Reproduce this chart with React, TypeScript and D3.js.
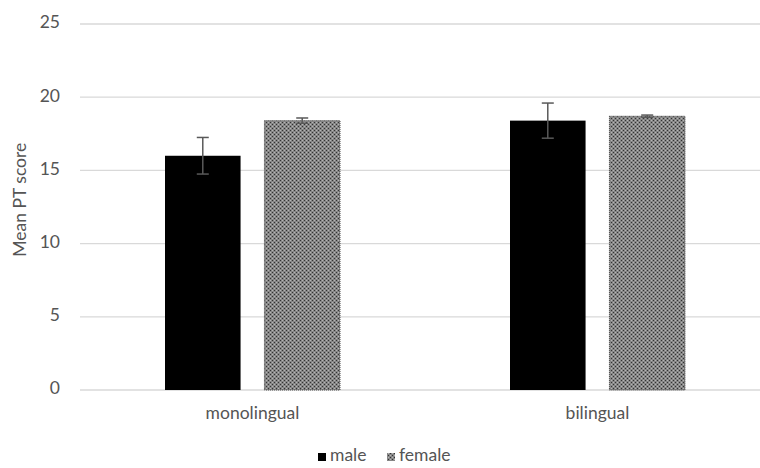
import React, { useEffect } from "react";
import * as d3 from "d3";

const groups = ["monolingual", "bilingual"];
const seriesNames = ["male", "female"];
const maleMeans = [16.0, 18.4];
const maleErr = [1.25, 1.2];
const femaleMeans = [18.4, 18.7];
const femaleErr = [0.18, 0.08];
const yTicks = [0, 5, 10, 15, 20, 25];

const W = 760;
const H = 468;
const FONT = "Lato, 'Open Sans', sans-serif";
const TEXT = "#555";
const FS = 17.5;

export default function App() {
  useEffect(() => {
    document.body.style.margin = "0";
  }, []);

  // the category bands run past the right edge, as in the cropped original
  const x = d3.scaleBand<string>().domain(groups).range([80, 770]);
  const inner = d3.scaleBand<string>().domain(seriesNames).range([85, 260]).paddingInner(0.24);
  const y = d3.scaleLinear().domain([0, 25]).range([390, 24]);

  const series = [
    { name: "male", means: maleMeans, errs: maleErr, fill: "#000" },
    { name: "female", means: femaleMeans, errs: femaleErr, fill: "url(#dots)" },
  ];
  const groupMid = (inner.range()[0] + inner.range()[1]) / 2;

  return (
    <svg width={W} height={H} style={{ display: "block", background: "#fff" }} fontFamily={FONT}>
      <defs>
        <pattern id="dots" width="4" height="4" patternUnits="userSpaceOnUse">
          <rect width="4" height="4" fill="#868686" />
          <rect x="0" y="0" width="1" height="1" fill="#333" />
          <rect x="2" y="2" width="1" height="1" fill="#333" />
          <rect x="2" y="0" width="1" height="1" fill="#b5b5b5" />
          <rect x="0" y="2" width="1" height="1" fill="#b5b5b5" />
        </pattern>
      </defs>

      {yTicks.map((t) => (
        <g key={t}>
          <line x1={80} x2={W} y1={y(t)} y2={y(t)} stroke="#d9d9d9" strokeWidth={1.3} />
          <text x={60} y={y(t)} textAnchor="end" dominantBaseline="middle" fontSize={FS} fill={TEXT}>
            {t}
          </text>
        </g>
      ))}

      <text
        transform={`translate(22, ${y(13.0)}) rotate(-90)`}
        textAnchor="middle"
        dominantBaseline="middle"
        fontSize={FS}
        fill={TEXT}
      >
        Mean PT score
      </text>

      {groups.map((g, gi) => (
        <g key={g} transform={`translate(${x(g)}, 0)`}>
          {series.map((s) => {
            const bx = inner(s.name)!;
            const bw = inner.bandwidth();
            const v = s.means[gi];
            const e = s.errs[gi];
            const cx = bx + bw / 2;
            const female = s.name === "female";
            return (
              <g key={s.name}>
                <rect
                  x={bx}
                  y={y(v)}
                  width={bw}
                  height={y(0) - y(v)}
                  fill={s.fill}
                  stroke={female ? "#444" : "none"}
                  strokeWidth={female ? 1 : 0}
                  strokeDasharray={female ? "1 1" : undefined}
                />
                <line x1={cx} x2={cx} y1={y(v + e)} y2={y(v - e)} stroke="#595959" strokeWidth={1.5} />
                <line x1={cx - 6} x2={cx + 6} y1={y(v + e)} y2={y(v + e)} stroke="#595959" strokeWidth={1.5} />
                <line x1={cx - 6} x2={cx + 6} y1={y(v - e)} y2={y(v - e)} stroke="#595959" strokeWidth={1.5} />
              </g>
            );
          })}
          <text x={groupMid} y={415} textAnchor="middle" dominantBaseline="middle" fontSize={FS} fill={TEXT}>
            {g}
          </text>
        </g>
      ))}

      <g transform="translate(318, 457)">
        <rect x={0} y={-4} width={8} height={8} fill="#000" />
        <text x={12} y={0} dominantBaseline="middle" fontSize={FS} fill={TEXT}>
          {seriesNames[0]}
        </text>
        <rect x={69} y={-4} width={8} height={8} fill="url(#dots)" />
        <text x={81} y={0} dominantBaseline="middle" fontSize={FS} fill={TEXT}>
          {seriesNames[1]}
        </text>
      </g>
    </svg>
  );
}
